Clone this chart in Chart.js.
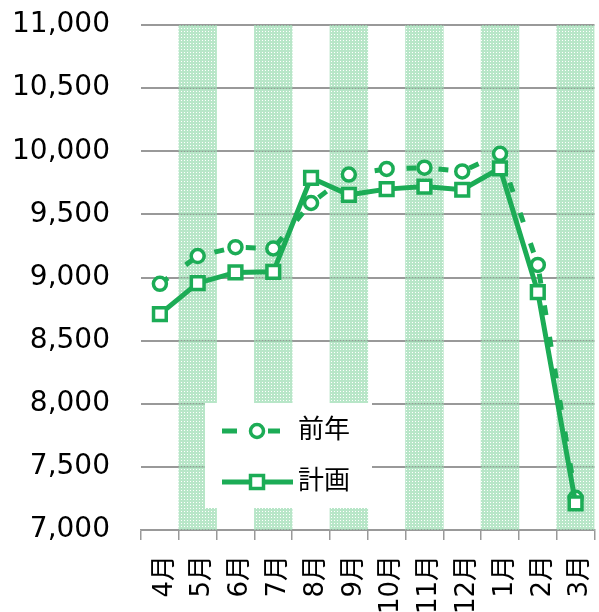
<!DOCTYPE html>
<html>
<head>
<meta charset="utf-8">
<script src="https://cdn.jsdelivr.net/npm/chart.js@4/dist/chart.umd.min.js"></script>
<style>
  html, body { margin: 0; padding: 0; background: #fff; overflow: hidden; }
  #wrap { width: 599px; height: 612px; position: relative; overflow: hidden; }
</style>
</head>
<body>
<div id="wrap"><canvas id="myLineChart" width="607" height="612"></canvas></div>
<script>
// chart data
const months = ['4月', '5月', '6月', '7月', '8月', '9月', '10月', '11月', '12月', '1月', '2月', '3月'];
const prevYear = [8950, 9170, 9240, 9230, 9590, 9815, 9860, 9870, 9840, 9980, 9100, 7255];
const plan = [8710, 8955, 9040, 9045, 9790, 9655, 9700, 9720, 9695, 9865, 8885, 7210];
// shaded columns (every other month)
const bandTop = [null, 11000, null, 11000, null, 11000, null, 11000, null, 11000, null, 11000];
const yMin = 7000;
const yMax = 11000;
const yStep = 500;

const green = 'rgb(28, 172, 86)';
const fontFamily = '"DejaVu Sans", "Noto Sans CJK JP", sans-serif';

// dotted light green fill for the bands
function makeBandPattern() {
    const c = document.createElement('canvas');
    c.width = 3;
    c.height = 3;
    const p = c.getContext('2d');
    p.fillStyle = 'rgba(160, 222, 182, 0.75)';
    p.fillRect(0, 0, 3, 3);
    p.clearRect(1, 1, 1, 1);
    return p.createPattern(c, 'repeat');
}

// legend box drawn inside the plot area
const boxLegend = {
    id: 'boxLegend',
    afterDatasetsDraw(chart) {
        const ctx = chart.ctx;
        ctx.save();
        ctx.fillStyle = '#fff';
        ctx.fillRect(205, 403, 167, 105);

        // 前年
        ctx.strokeStyle = green;
        ctx.lineWidth = 5;
        ctx.beginPath();
        ctx.moveTo(222, 431); ctx.lineTo(237, 431);
        ctx.moveTo(268, 431); ctx.lineTo(280, 431);
        ctx.stroke();
        ctx.lineWidth = 3.5;
        ctx.fillStyle = '#fff';
        ctx.beginPath();
        ctx.arc(257, 431, 6.5, 0, Math.PI * 2);
        ctx.fill();
        ctx.stroke();

        // 計画
        ctx.lineWidth = 5;
        ctx.beginPath();
        ctx.moveTo(222, 482); ctx.lineTo(293, 482);
        ctx.stroke();
        ctx.lineWidth = 3.5;
        ctx.fillStyle = '#fff';
        ctx.fillRect(250.5, 475.5, 13, 13);
        ctx.strokeRect(250.5, 475.5, 13, 13);

        ctx.fillStyle = '#000';
        ctx.font = '26px ' + fontFamily;
        ctx.textBaseline = 'middle';
        ctx.textAlign = 'left';
        ctx.fillText('前年', 298, 431);
        ctx.fillText('計画', 298, 482);
        ctx.restore();
    }
};

function renderChart() {
    const ctx = document.getElementById('myLineChart').getContext('2d');

    const myLineChart = new Chart(ctx, {
        type: 'line',
        data: {
            labels: months,
            datasets: [
                {
                    label: '前年',
                    data: prevYear,
                    borderColor: green,
                    borderWidth: 5,
                    borderDash: [10, 22],
                    pointStyle: 'circle',
                    pointRadius: 6.5,
                    pointBorderWidth: 3.5,
                    pointBackgroundColor: '#fff',
                    pointBorderColor: green,
                    tension: 0,
                    order: 2
                },
                {
                    label: '計画',
                    data: plan,
                    borderColor: green,
                    borderWidth: 5,
                    pointStyle: 'rect',
                    pointRadius: 9,
                    pointBorderWidth: 3.5,
                    pointBackgroundColor: '#fff',
                    pointBorderColor: green,
                    tension: 0,
                    order: 1
                },
                {
                    type: 'bar',
                    label: 'band',
                    data: bandTop,
                    backgroundColor: makeBandPattern(),
                    borderWidth: 0,
                    barPercentage: 1,
                    categoryPercentage: 1,
                    order: 3
                }
            ]
        },
        options: {
            responsive: false,
            animation: false,
            layout: { padding: { top: 25, right: 0, left: 0, bottom: 0 } },
            plugins: {
                legend: { display: false },
                tooltip: { enabled: false }
            },
            scales: {
                x: {
                    offset: true,
                    grid: {
                        offset: true,
                        drawOnChartArea: false,
                        drawTicks: true,
                        tickLength: 10,
                        color: '#999',
                        lineWidth: 1.5
                    },
                    border: { color: '#999', width: 1.5 },
                    ticks: {
                        color: '#000',
                        font: { size: 26, family: fontFamily },
                        minRotation: 90,
                        maxRotation: 90,
                        autoSkip: false,
                        padding: 15,
                        labelOffset: 5
                    },
                    afterFit(scale) {
                        scale.height = 82;
                        scale.paddingLeft = 0;
                        scale.paddingRight = 0;
                    }
                },
                y: {
                    min: yMin,
                    max: yMax,
                    grid: {
                        drawTicks: false,
                        color: '#999',
                        lineWidth: 2
                    },
                    border: { display: false },
                    ticks: {
                        stepSize: yStep,
                        color: '#000',
                        padding: 31,
                        font: { size: 28, family: fontFamily },
                        callback: v => v.toLocaleString('en-US')
                    },
                    afterFit(scale) {
                        scale.width = 141;
                        scale.paddingTop = 0;
                        scale.paddingBottom = 0;
                    }
                }
            }
        },
        plugins: [boxLegend]
    });
}

document.addEventListener('DOMContentLoaded', renderChart);
</script>
</body>
</html>
